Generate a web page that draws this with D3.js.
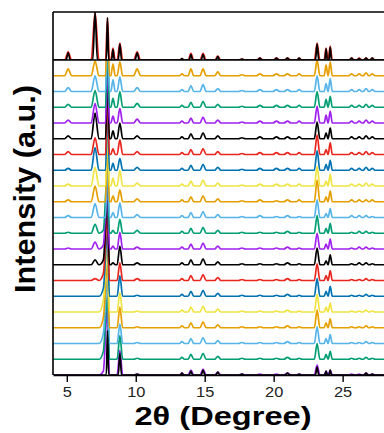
<!DOCTYPE html>
<html>
<head>
<meta charset="utf-8">
<script src="https://cdn.jsdelivr.net/npm/d3@7"></script>
<style>
  html, body { margin: 0; padding: 0; background: #fff; }
  svg { display: block; font-family: "Liberation Sans", Arial, sans-serif; }
  .trace { fill: none; stroke-width: 1.7; stroke-linejoin: round; }
  .frame { stroke: #000; stroke-width: 1.6; fill: none; }
</style>
</head>
<body>
<svg id="chart" width="384" height="433"></svg>
<script>
// Peak positions (2θ, degrees) shared by all patterns, and their half widths
const peakPos = [5.1, 7.05, 7.65, 7.95, 8.35, 8.85, 10.1, 13.35, 14.0, 14.88, 15.95, 17.7,
  19.0, 20.2, 21.0, 21.85, 23.15, 23.8, 24.1, 25.65, 26.2, 26.7, 27.15];
const peakHalfWidth = [0.25, 0.28, 0.3, 0.14, 0.16, 0.2, 0.25, 0.18, 0.2, 0.22, 0.22, 0.25,
  0.25, 0.25, 0.25, 0.2, 0.2, 0.14, 0.15, 0.2, 0.2, 0.2, 0.2];

// Stacked patterns, bottom (0) to top (19); one height per peak (a.u.)
const patternHeights = [
  [0, 0, 4, 70, 0, 25, 1, 2, 5, 6, 3, 1, 1, 1, 2, 1, 10, 4, 5, 1, 1, 2, 1],
  [0, 0, 8, 65, 0, 24, 1, 2, 5, 6, 3, 1, 1, 1, 2, 1, 16, 5, 8, 1, 1, 2, 1],
  [0, 0, 10, 65, 0, 20, 1, 2, 5, 6, 3, 1, 1, 1, 2, 1, 17, 5, 9, 1, 1, 2, 1],
  [0, 0, 10, 65, 0, 21, 1, 2, 5, 6, 3, 1, 1, 1, 2, 1, 18, 5, 9, 1, 1, 2, 1],
  [0, 0, 12, 65, 0, 20, 1, 2, 5, 6, 3, 1, 1, 1, 2, 1, 18, 5, 9, 1, 1, 2, 1],
  [0, 0, 8, 65, 0, 21, 1, 2, 5, 6, 3, 1, 1, 1, 2, 1, 18, 5, 10, 1, 1, 2, 1],
  [0, 2, 7, 65, 0, 18, 2, 2, 5, 6, 3, 1, 1, 1, 2, 1, 17, 5, 10, 1, 1, 2, 1],
  [0, 5, 5, 65, 2, 19, 2, 2, 5, 6, 3, 1, 1, 1, 2, 1, 17, 4, 10, 1, 2, 2, 1],
  [1, 7, 4, 65, 3, 17, 2, 2, 5, 6, 3, 1, 1, 1, 2, 1, 16, 5, 10, 1, 2, 2, 1],
  [1, 9, 3, 65, 3, 14, 3, 2, 5, 6, 3, 1, 1, 1, 2, 1, 18, 5, 10, 1, 2, 2, 1],
  [2, 14, 0, 65, 5, 15, 3, 2, 5, 6, 3, 1, 2, 1, 2, 1, 18, 4, 9, 2, 2, 2, 1],
  [2, 16, 0, 65, 6, 12, 3, 2, 5, 6, 3, 1, 2, 1, 2, 2, 22, 5, 11, 2, 2, 2, 2],
  [2, 19, 0, 65, 8, 16, 3, 2, 5, 6, 3, 1, 2, 2, 2, 2, 20, 5, 12, 2, 2, 3, 2],
  [2, 23, 0, 65, 7, 12, 3, 2, 5, 6, 3, 1, 2, 2, 2, 2, 20, 6, 10, 2, 2, 3, 2],
  [3, 17, 0, 65, 6, 15, 3, 2, 5, 6, 3, 1, 2, 2, 2, 2, 20, 5, 12, 2, 2, 3, 2],
  [3, 26, 0, 65, 8, 16, 3, 2, 5, 6, 3, 1, 2, 2, 2, 2, 17, 6, 11, 2, 2, 3, 2],
  [3, 20, 0, 65, 7, 15, 4, 2, 5, 6, 3, 1, 2, 2, 2, 2, 17, 8, 12, 2, 2, 3, 2],
  [3, 17, 0, 65, 9, 16, 4, 2, 5, 6, 3, 1, 2, 2, 2, 2, 16, 8, 11, 2, 2, 3, 2],
  [4, 16, 0, 65, 12, 15, 4, 2, 6, 7, 3, 1, 2, 2, 2, 2, 16, 8, 13, 2, 2, 3, 2],
  [7, 15, 0, 65, 12, 14, 7, 2, 7, 7, 4, 1, 2, 2, 2, 2, 16, 11, 14, 2, 2, 3, 2]
];
const patternColors = ["#A020F0", "#009E73", "#56B4E9", "#E69F00",
  "#F0E442", "#0072B2", "#E8261E", "#000000"];
const patternStep = 16;

// Reference (simulated) patterns
const bottomRefHeights = [0, 0, 0, 45, 0, 22, 1, 2, 4, 5, 3, 1, 0, 0, 2, 1, 8, 4, 5, 0, 0, 2, 1];
const topRedHeights = [17, 100, 0, 88, 25, 35, 17, 3, 14, 14, 8, 2, 4, 4, 4, 4, 35, 25, 29, 4, 4, 4, 4];
const topBlackHeights = [15, 100, 0, 88, 22, 33, 15, 3, 12, 12, 7, 2, 4, 4, 4, 4, 33, 23, 27, 4, 3, 4, 4];

const xTicks = [5, 10, 15, 20, 25];

const svg = d3.select("#chart");
const frame = { left: 53, right: 384, top: 12, split: 60, bottom: 375 };

const x = d3.scaleLinear().domain([4, 28]).range([frame.left, frame.right]);
const y = d3.scaleLinear().domain([0, 320]).range([frame.bottom, frame.split]);
const yTop = d3.scaleLinear().domain([0, 100]).range([frame.split, frame.top]);

// Vertex table for one pattern: feet + apex per peak, feet dropped inside a neighbour peak
function vertices(heights, widthScale) {
  const active = peakPos
    .map((p, k) => ({ p, h: heights[k], w: peakHalfWidth[k] * widthScale }))
    .filter(d => d.h > 0);
  const inside = (v, self) => active.some(o => o !== self && v > o.p - o.w && v < o.p + o.w);
  const pts = [[4, 0]];
  active.forEach(d => {
    if (!inside(d.p - d.w, d)) pts.push([d.p - d.w, 0]);
    pts.push([d.p, d.h]);
    if (!inside(d.p + d.w, d)) pts.push([d.p + d.w, 0]);
  });
  pts.push([28, 0]);
  return pts.sort((a, b) => a[0] - b[0]);
}

const defs = svg.append("defs");
defs.append("clipPath").attr("id", "clip-main")
  .append("rect")
  .attr("x", frame.left).attr("y", frame.split)
  .attr("width", frame.right - frame.left).attr("height", frame.bottom - frame.split);
defs.append("clipPath").attr("id", "clip-top")
  .append("rect")
  .attr("x", frame.left).attr("y", frame.top)
  .attr("width", frame.right - frame.left).attr("height", frame.split - frame.top);

const mainG = svg.append("g").attr("clip-path", "url(#clip-main)");

patternHeights.forEach((heights, i) => {
  const offset = i * patternStep;
  const line = d3.line()
    .x(d => x(d[0]))
    .y(d => y(d[1] + offset))
    .curve(d3.curveMonotoneX);
  mainG.append("path")
    .datum(vertices(heights, 1))
    .attr("class", "trace")
    .attr("stroke", patternColors[i % patternColors.length])
    .attr("d", line);
});

// bottom reference sticks
mainG.append("path")
  .datum(vertices(bottomRefHeights, 0.6))
  .attr("class", "trace")
  .attr("stroke", "#000")
  .attr("stroke-width", 1.3)
  .attr("d", d3.line().x(d => x(d[0])).y(d => y(d[1])).curve(d3.curveMonotoneX));

// top panel
const topG = svg.append("g").attr("clip-path", "url(#clip-top)");
const topLine = d3.line().x(d => x(d[0])).y(d => yTop(d[1])).curve(d3.curveMonotoneX);
topG.append("path")
  .datum(vertices(topRedHeights, 1))
  .attr("class", "trace")
  .attr("stroke", "#E8261E")
  .attr("stroke-width", 2.2)
  .attr("d", topLine);
topG.append("path")
  .datum(vertices(topBlackHeights, 0.6))
  .attr("class", "trace")
  .attr("stroke", "#000")
  .attr("stroke-width", 1.2)
  .attr("d", topLine);

// frame lines
[[frame.left, frame.right, frame.top, frame.top],
 [frame.left, frame.right, frame.split, frame.split],
 [frame.left, frame.left, frame.top, frame.bottom]].forEach(([x1, x2, y1, y2]) => {
  svg.append("line").attr("class", "frame")
    .attr("x1", x1).attr("x2", x2).attr("y1", y1).attr("y2", y2);
});

// x axis
const xAxis = svg.append("g")
  .attr("transform", `translate(0,${frame.bottom})`)
  .call(d3.axisBottom(x).tickValues(xTicks).tickSizeInner(7).tickSizeOuter(0)
    .tickPadding(5).tickFormat(d3.format("d")));
xAxis.select(".domain").attr("stroke-width", 1.6);
xAxis.selectAll(".tick line").attr("stroke-width", 1.4);
xAxis.selectAll(".tick text")
  .attr("font-size", 14)
  .attr("fill", "#222")
  .attr("transform", "scale(1.17,1)")
  .style("font-family", "'Liberation Sans', Arial, sans-serif");

// axis titles
svg.append("text")
  .attr("x", 223)
  .attr("y", 425)
  .attr("text-anchor", "middle")
  .attr("font-size", 26)
  .attr("font-weight", "bold")
  .attr("textLength", 177)
  .attr("lengthAdjust", "spacingAndGlyphs")
  .text("2θ (Degree)");

svg.append("text")
  .attr("transform", "translate(35,189) rotate(-90)")
  .attr("text-anchor", "middle")
  .attr("font-size", 29)
  .attr("font-weight", "bold")
  .attr("textLength", 208)
  .attr("lengthAdjust", "spacingAndGlyphs")
  .text("Intensity (a.u.)");
</script>
</body>
</html>
